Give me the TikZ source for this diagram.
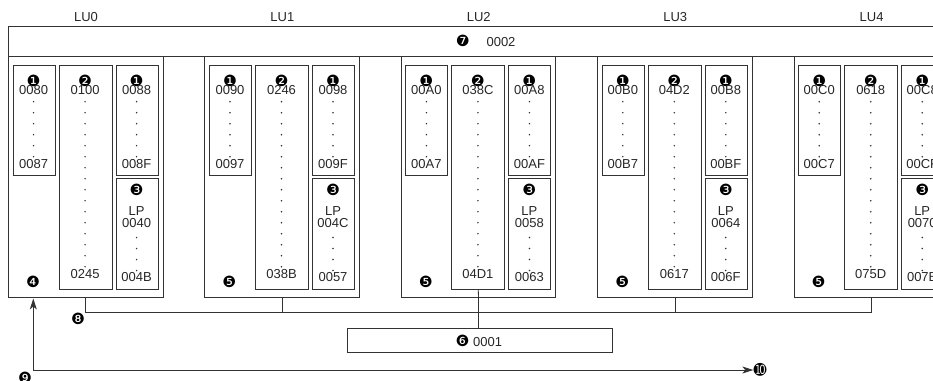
\documentclass[tikz,border=0pt]{standalone}
\usepackage{fontspec}
\setmainfont{Liberation Sans}
\newfontfamily\dingf{DejaVu Sans}
\usetikzlibrary{arrows.meta}
\tikzset{
  ln/.style={draw=black!80, line width=0.8pt},
  bx/.style={draw=black!80, line width=0.8pt},
  txt/.style={font=\fontsize{13}{13}\selectfont, text=black!85, inner sep=0pt},
  num/.style={font=\dingf\fontsize{15.5}{15.5}\selectfont, text=black, inner sep=0pt},
  dotm/.style={fill=black!80, draw=none},
  arr/.style={ln, -{Stealth[length=11pt,width=7pt,inset=3pt]}}
}
\begin{document}
\begin{tikzpicture}[x=1pt,y=-1pt]
\useasboundingbox (0,0) rectangle (933,380);
\clip (0,0) rectangle (933,380);
% top bar
\node[bx, minimum width=960pt, minimum height=30pt, anchor=north west, inner sep=0pt] (bar) at (8,26) {};
\node[num] (n7) at (462.7,41) {❼};
\node[txt] (t0002) at (501,42) {0002};
\foreach \i/\lu/\ma/\mb/\ba/\bb/\ca/\cb/\da/\db/\mk in {
  0/LU0/0080/0087/0100/0245/0088/008F/0040/004B/❹,
  1/LU1/0090/0097/0246/038B/0098/009F/004C/0057/❺,
  2/LU2/00A0/00A7/038C/04D1/00A8/00AF/0058/0063/❺,
  3/LU3/00B0/00B7/04D2/0617/00B8/00BF/0064/006F/❺,
  4/LU4/00C0/00C7/0618/075D/00C8/00CF/0070/007B/❺}{
  \pgfmathsetmacro{\L}{8+196.4*\i}
  \node[txt] (lab\i) at (\L+78,17) {\lu};
  \node[bx, anchor=north west, minimum width=154.5pt, minimum height=240.5pt, inner sep=0pt] (lu\i) at (\L,56) {};
  % box 1
  \node[bx, anchor=north west, minimum width=42pt, minimum height=110.8pt, inner sep=0pt] (b1\i) at (\L+4.6,64.5) {};
  \node[num] (b1n\i) at (\L+25.6,81) {❶};
  \node[txt] (b1t\i) at (\L+25.6,90) {\ma};
  \foreach \k in {0,...,5}{\fill[dotm] (\L+25.6,101.7+11*\k) circle (0.85);}
  \node[txt] (b1b\i) at (\L+25.6,164.5) {\mb};
  % box 2
  \node[bx, anchor=north west, minimum width=53pt, minimum height=224.6pt, inner sep=0pt] (b2\i) at (\L+50.6,64.5) {};
  \node[num] (b2n\i) at (\L+77.1,81) {❷};
  \node[txt] (b2t\i) at (\L+77.1,90) {\ba};
  \foreach \k in {0,...,15}{\fill[dotm] (\L+77.1,101.7+11*\k) circle (0.85);}
  \node[txt] (b2b\i) at (\L+77.1,274.5) {\bb};
  % box 1b
  \node[bx, anchor=north west, minimum width=42pt, minimum height=110.8pt, inner sep=0pt] (b3\i) at (\L+107.6,64.5) {};
  \node[num] (b3n\i) at (\L+128.6,81) {❶};
  \node[txt] (b3t\i) at (\L+128.6,90) {\ca};
  \foreach \k in {0,...,5}{\fill[dotm] (\L+128.6,101.7+11*\k) circle (0.85);}
  \node[txt] (b3b\i) at (\L+128.6,164.5) {\cb};
  % box 3
  \node[bx, anchor=north west, minimum width=42pt, minimum height=110.8pt, inner sep=0pt] (b4\i) at (\L+107.6,178.3) {};
  \node[num] (b4n\i) at (\L+128.6,190) {❸};
  \node[txt] (b4l\i) at (\L+128.6,211) {LP};
  \node[txt] (b4t\i) at (\L+128.6,223) {\da};
  \foreach \k in {0,...,3}{\fill[dotm] (\L+128.6,237.5+11*\k) circle (0.85);}
  \node[txt] (b4b\i) at (\L+128.6,277.5) {\db};
  \node[num] (mk\i) at (\L+25,282) {\mk};
  \coordinate (drop\i) at (\L+77.8,312.5);
}
% bus
\node[bx, anchor=north west, minimum width=265.6pt, minimum height=23.4pt, inner sep=0pt] (sys) at (346.7,328.3) {};
\node[num] (n6) at (462.5,341) {❻};
\node[txt, anchor=west] (t0001) at (473,342) {0001};
\draw[ln] (lu0.south -| drop0) -- (drop0) -- (drop4) -- (lu4.south -| drop4);
\draw[ln] (lu1.south -| drop1) -- (drop1);
\draw[ln] (lu3.south -| drop3) -- (drop3);
\draw[ln] (b22.south) -- (lu2.south);
\draw[ln] (lu2.south -| drop2) -- (sys.north -| drop2);
\node[num] (n8) at (78,319) {❽};
% arrows
\coordinate (corner) at (33.3,370);
\draw[arr] (corner) -- (33.3,298.5);
\node[num] (n10) at (760,370) {➓};
\draw[arr] (corner) -- (n10.west);
\node[num] (n9) at (25,378) {❾};
\end{tikzpicture}
\end{document}
